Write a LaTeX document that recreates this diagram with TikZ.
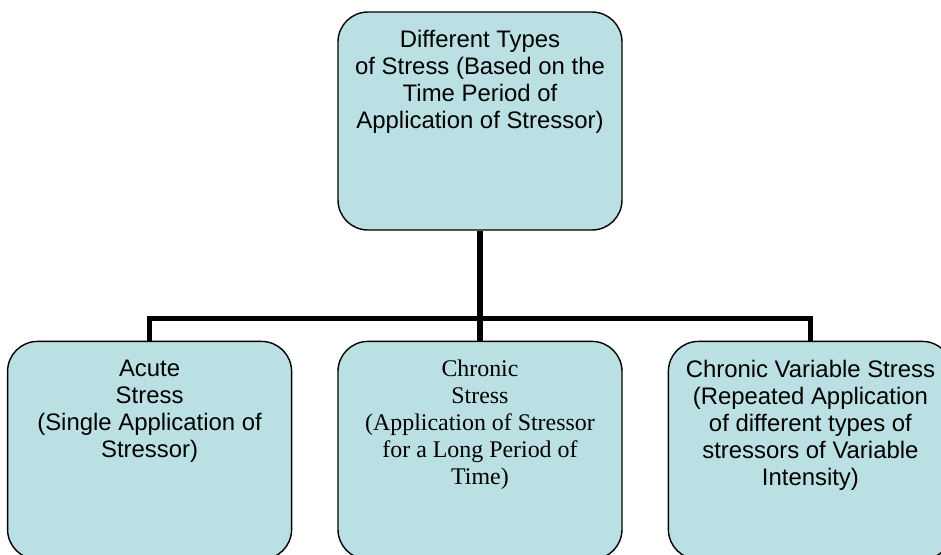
\documentclass[tikz,border=0pt]{standalone}
\usepackage{fontspec}
\setmainfont{Liberation Sans}
\newfontfamily\timesface{Liberation Serif}
\usetikzlibrary{positioning}
\definecolor{boxteal}{HTML}{BBE0E3}
\newcommand{\boxtext}[1]{%
  \begin{minipage}[t][5.45cm][t]{7.1cm}\centering
    \vspace*{0.46cm}#1\end{minipage}}

\begin{document}
\begin{tikzpicture}[
  stressbox/.style={draw, fill=boxteal, rectangle, rounded corners=0.75cm,
                    inner sep=0pt, line width=1pt,
                    font=\fontsize{17}{19.2}\selectfont},
  link/.style={line width=3.6pt},
  node distance=2.75cm and 1.125cm
]
  \clip (-12,-10.825) rectangle (11.525,3.025);

  %% Boxes
  \node[stressbox] (types)
    {\boxtext{Different Types\\ of Stress (Based on the\\ Time Period of\\ Application of Stressor)}};

  \node[stressbox, below=of types] (chronic)
    {\boxtext{\timesface Chronic\\ Stress\\ (Application of Stressor\\ for a Long Period of\\ Time)}};

  \node[stressbox, left=of chronic] (acute)
    {\boxtext{Acute\\ Stress\\ (Single Application of\\ Stressor)}};

  \node[stressbox, right=of chronic] (variable)
    {\boxtext{Chronic Variable Stress\\ (Repeated Application\\ of different types of\\ stressors of Variable\\ Intensity)}};

  %% Connectors
  \draw[link] (types.south) -- (chronic.north);
  \draw[link] (acute.north) -- ++(0,0.55) -| (variable.north);

\end{tikzpicture}
\end{document}
